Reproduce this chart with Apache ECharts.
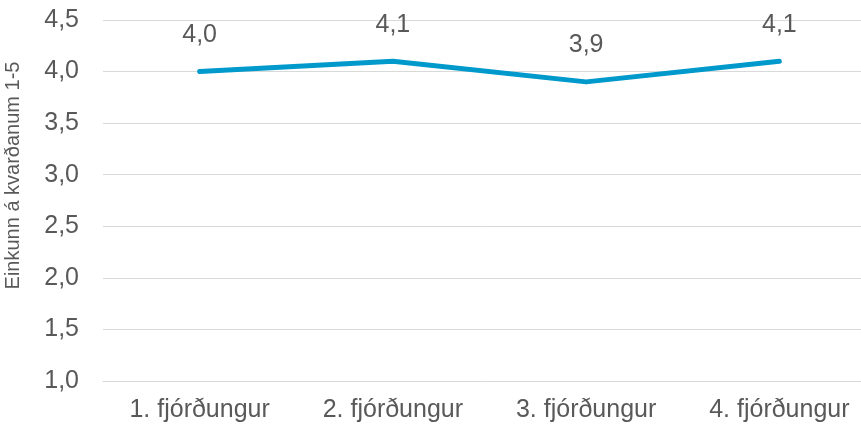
<!DOCTYPE html>
<html>
<head>
<meta charset="utf-8">
<script src="https://cdn.jsdelivr.net/npm/echarts@6/dist/echarts.min.js"></script>
<style>
  html, body { margin: 0; padding: 0; background: #fff; }
  #chart { width: 861px; height: 430px; }
</style>
</head>
<body>
<div id="chart"></div>
<script>
// Quarterly average score on a 1-5 scale
const categories = ['1. fjórðungur', '2. fjórðungur', '3. fjórðungur', '4. fjórðungur'];
const scores = [4.0, 4.1, 3.9, 4.1];
const yAxisTitle = 'Einkunn á kvarðanum 1-5';

const fmt = v => v.toFixed(1).replace('.', ',');
const font = '"Liberation Sans", Arial, sans-serif';
const textColor = '#595959';

const chart = echarts.init(document.getElementById('chart'), null, { renderer: 'canvas' });
chart.setOption({
  animation: false,
  textStyle: { fontFamily: font },
  grid: { left: 103, top: 20, width: 773, bottom: 49, outerBoundsMode: 'none', containLabel: false },
  xAxis: {
    type: 'category',
    data: categories,
    boundaryGap: true,
    axisLine: { show: true, lineStyle: { color: '#d9d9d9', width: 1 } },
    axisTick: { show: false },
    axisLabel: { color: textColor, fontSize: 25, fontFamily: font, margin: 17 }
  },
  yAxis: {
    type: 'value',
    min: 1.0,
    max: 4.5,
    interval: 0.5,
    name: yAxisTitle,
    nameLocation: 'middle',
    nameGap: 80,
    nameRotate: 90,
    nameTextStyle: { color: textColor, fontSize: 20, fontFamily: font, padding: [0, 0, 0, 50] },
    axisLine: { show: false },
    axisTick: { show: false },
    splitLine: { lineStyle: { color: '#d9d9d9', width: 1 } },
    axisLabel: { color: textColor, fontSize: 25, fontFamily: font, margin: 24, formatter: v => fmt(v) }
  },
  series: [{
    type: 'line',
    data: scores,
    symbol: 'circle',
    symbolSize: 0,
    showSymbol: true,
    lineStyle: { color: '#0099cc', width: 5, cap: 'round', join: 'round' },
    itemStyle: { color: '#0099cc' },
    label: {
      show: true,
      position: 'top',
      distance: 24,
      color: textColor,
      fontSize: 25,
      fontFamily: font,
      formatter: p => fmt(p.value)
    }
  }]
});
</script>
</body>
</html>
